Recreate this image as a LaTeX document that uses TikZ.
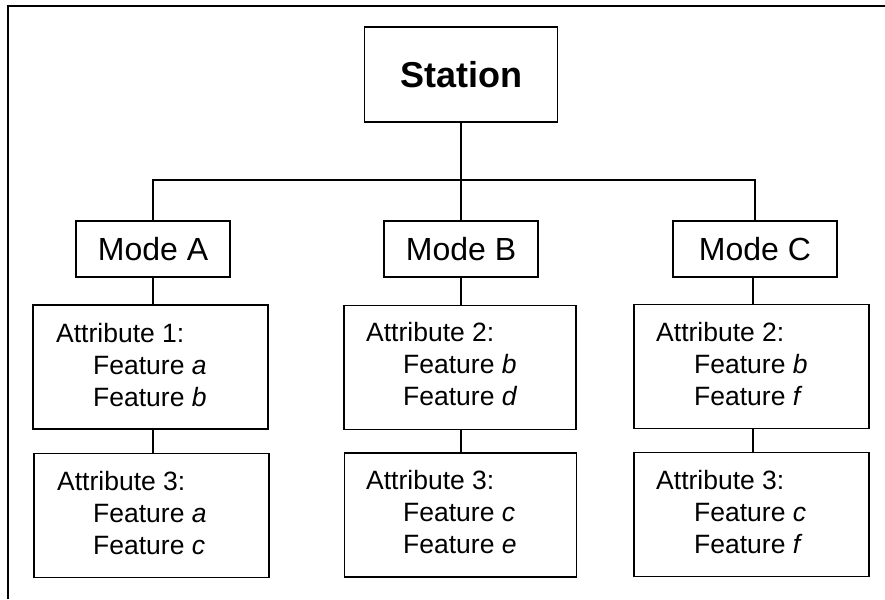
\documentclass[tikz,border=0pt]{standalone}
\usepackage{fontspec}
\setmainfont{Liberation Sans}
\begin{document}
\begin{tikzpicture}[x=1pt,y=-1pt,
  ln/.style={line width=1.9pt},
  box/.style={draw, line width=1.9pt, rectangle, inner sep=0pt},
  modebox/.style={box, minimum width=154pt, minimum height=56pt, font=\fontsize{32}{36}\selectfont},
  attrbox/.style={box, minimum height=124pt},
  txt/.style={inner sep=0pt, anchor=base west, font=\fontsize{26.5}{32}\selectfont}]
\useasboundingbox (0,0) rectangle (885,599);
% outer frame (left and top edges)
\draw[ln] (8,599) -- (8,6) -- (885,6);
% station
\node[box, minimum width=193pt, minimum height=95pt, font=\fontsize{36}{42}\selectfont\bfseries] (st) at (461,74.5) {Station};
% modes
\node[modebox] (ma) at (153,249) {Mode A};
\node[modebox] (mb) at (461,249) {Mode B};
\node[modebox, minimum width=164pt] (mc) at (755,249) {Mode C};
% bus
\coordinate (busL) at (153,180);
\coordinate (busR) at (755,180);
\draw[ln] (ma.north) -- (busL) -- (busR) -- (mc.north);
\draw[ln] (st.south) -- (st.south |- busL);
\draw[ln] (mb.north) -- (mb.north |- busL);
% attribute boxes
\node[attrbox, minimum width=235pt] (a1) at (150.5,367) {};
\node[attrbox, minimum width=235pt] (a3) at (151.5,515.5) {};
\node[attrbox, minimum width=232pt] (b2) at (460,367.5) {};
\node[attrbox, minimum width=232pt] (b3) at (460.5,515) {};
\node[attrbox, minimum width=235pt] (c2) at (751.5,366.5) {};
\node[attrbox, minimum width=235pt] (c3) at (751.5,514.5) {};
% stems
\draw[ln] (ma.south) -- (ma.south |- a1.north);
\draw[ln] (ma.south |- a1.south) -- (ma.south |- a3.north);
\draw[ln] (mb.south) -- (mb.south |- b2.north);
\draw[ln] (mb.south |- b2.south) -- (mb.south |- b3.north);
\coordinate (cs) at (753,0);
\draw[ln] (cs |- mc.south) -- (cs |- c2.north);
\draw[ln] (cs |- c2.south) -- (cs |- c3.north);
% texts A
\node[txt] (a1t1) at (56,342.7) {Attribute 1:};
\node[txt] (a1t2) at (93,374) {Feature \textit{a}};
\node[txt] (a1t3) at (93,406) {Feature \textit{b}};
\node[txt] (a3t1) at (57,490) {Attribute 3:};
\node[txt] (a3t2) at (93,522) {Feature \textit{a}};
\node[txt] (a3t3) at (93,554) {Feature \textit{c}};
% texts B
\node[txt] (b2t1) at (366,341.7) {Attribute 2:};
\node[txt] (b2t2) at (403,373) {Feature \textit{b}};
\node[txt] (b2t3) at (403,405.5) {Feature \textit{d}};
\node[txt] (b3t1) at (366,489.5) {Attribute 3:};
\node[txt] (b3t2) at (403,521.5) {Feature \textit{c}};
\node[txt] (b3t3) at (403,553.5) {Feature \textit{e}};
% texts C
\node[txt] (c2t1) at (656,341.5) {Attribute 2:};
\node[txt] (c2t2) at (694,373) {Feature \textit{b}};
\node[txt] (c2t3) at (694,405) {Feature \textit{f}};
\node[txt] (c3t1) at (656,489) {Attribute 3:};
\node[txt] (c3t2) at (694,521) {Feature \textit{c}};
\node[txt] (c3t3) at (694,553) {Feature \textit{f}};
\end{tikzpicture}
\end{document}
